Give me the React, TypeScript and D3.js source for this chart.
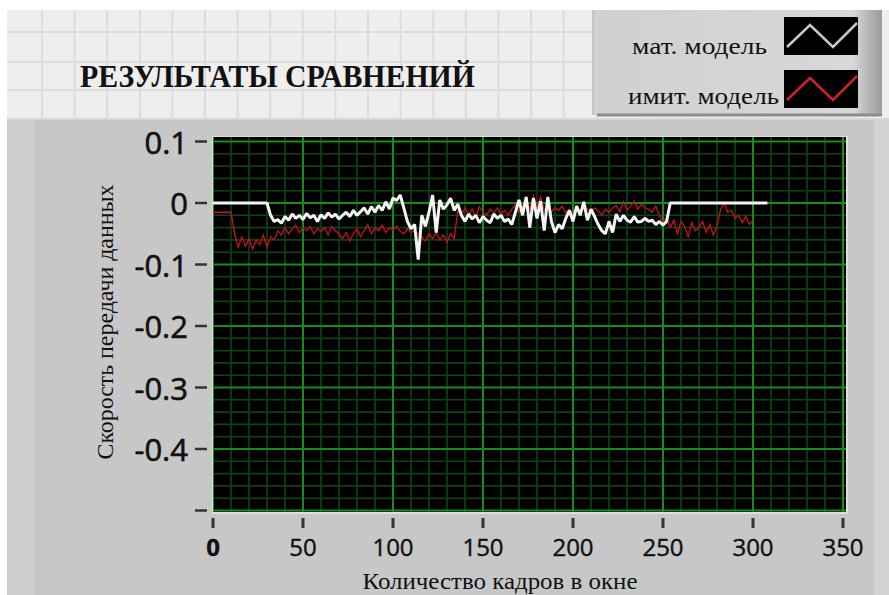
import React from "react";
import * as d3 from "d3";

// ---- data ----
const FRAME_STEP = 2; // samples every 2 frames
const MAT_MODEL: number[] = [
  0, 0, 0, 0, 0, 0, 0, 0, 0, 0, 0, 0, 0, 0, 0, 0,
  -0.02, -0.03, -0.027, -0.033, -0.022, -0.028, -0.018, -0.025, -0.02, -0.027,
  -0.017, -0.024, -0.02, -0.03, -0.019, -0.025, -0.016, -0.023, -0.018, -0.026,
  -0.02, -0.015, -0.022, -0.012, -0.02, -0.014, -0.008, -0.018, -0.006, -0.015,
  -0.004, -0.012, 0.002, -0.01, 0.008, 0.004, 0.013, -0.008, -0.03, -0.042,
  -0.035, -0.092, -0.02, -0.038, -0.015, 0.013, -0.048, 0.005, -0.01, -0.003,
  0.008, -0.012, -0.002, -0.02, -0.03, -0.018, -0.026, -0.02, -0.032, -0.022,
  -0.028, -0.032, -0.018, -0.025, -0.02, -0.03, -0.026, -0.035, -0.015, 0.005,
  -0.02, 0.01, -0.04, 0.008, -0.025, 0.003, -0.045, 0.01, -0.03, -0.048,
  -0.035, -0.042, -0.025, -0.012, -0.03, -0.005, -0.02, 0.002, -0.028, -0.01,
  -0.022, -0.035, -0.045, -0.05, -0.03, -0.048, -0.018, -0.03, -0.02, -0.028,
  -0.031, -0.022, -0.031, -0.03, -0.025, -0.03, -0.028, -0.035, -0.03, -0.036,
  -0.03, 0, 0, 0, 0, 0, 0, 0, 0, 0, 0, 0, 0, 0, 0, 0, 0, 0, 0, 0, 0, 0, 0, 0,
  0, 0, 0, 0, 0,
];
const SIM_MODEL: number[] = [
  -0.015, -0.015, -0.015, -0.015, -0.015, -0.015,
  -0.05, -0.072, -0.055, -0.07, -0.058, -0.075, -0.06, -0.068, -0.052, -0.072,
  -0.055, -0.06, -0.045, -0.052, -0.04, -0.05, -0.042, -0.036, -0.048, -0.04,
  -0.045, -0.038, -0.05, -0.042, -0.046, -0.04, -0.052, -0.038, -0.045, -0.05,
  -0.058, -0.048, -0.062, -0.05, -0.042, -0.055, -0.045, -0.035, -0.05, -0.04,
  -0.045, -0.036, -0.048, -0.04, -0.044, -0.038, -0.046, -0.05, -0.042, -0.048,
  -0.045, -0.05, -0.055, -0.062, -0.05, -0.058, -0.048, -0.06, -0.052, -0.064,
  -0.05, -0.058, -0.012, -0.02, -0.008, -0.018, -0.01, -0.022, -0.006, -0.015,
  -0.02, -0.01, -0.016, -0.008, -0.018, -0.012, -0.02, -0.01, -0.003, -0.015,
  -0.005, 0.005, -0.01, 0.012, -0.008, 0.01, -0.012, -0.005, -0.015, -0.008,
  -0.012, -0.005, -0.016, -0.01, -0.018, -0.006, -0.014, -0.002, -0.01, -0.016,
  -0.008, -0.012, -0.02, -0.01, -0.015, -0.008, -0.004, -0.014, 0.002, -0.012,
  -0.005, 0.003, -0.01, -0.002, -0.008, -0.01, -0.015, -0.005, -0.02, -0.03,
  -0.025, -0.04, -0.028, -0.05, -0.03, -0.038, -0.055, -0.032, -0.045, -0.04,
  -0.03, -0.048, -0.035, -0.052, -0.038, -0.01, 0, -0.015, -0.012, -0.025,
  -0.02, -0.032, -0.022, -0.035, -0.028,
];
const X_TICKS = [0, 50, 100, 150, 200, 250, 300, 350];
const Y_TICKS = [0.1, 0, -0.1, -0.2, -0.3, -0.4, -0.5];
const Y_TICK_LABELS = ["0.1", "0", "-0.1", "-0.2", "-0.3", "-0.4", ""];
const TITLE = "РЕЗУЛЬТАТЫ СРАВНЕНИЙ";
const LEGEND = ["мат. модель", "имит. модель"];
const X_LABEL = "Количество кадров в окне";
const Y_LABEL = "Скорость передачи данных";

const W = 889;
const H = 595;
const PLOT = { left: 213, right: 846, top: 137, bottom: 512 };

export default function App() {
  const x = d3.scaleLinear().domain([0, 350]).range([213, 843]);
  const y = d3.scaleLinear().domain([0, -0.5]).range([203, 510.5]);

  const white = MAT_MODEL.map((v, i) => [i * FRAME_STEP, v] as [number, number]);
  const red = SIM_MODEL.map((v, i) => [i * FRAME_STEP, v] as [number, number]);

  const line = d3
    .line<[number, number]>()
    .x((d) => x(d[0]))
    .y((d) => y(d[1]));

  const minorX = d3.range(0, 351, 10).filter((v) => v % 50 !== 0);
  const majorX = d3.range(0, 351, 50);
  const minorY = d3.range(-50, 11, 2).map((v) => v / 100).filter((v) => Math.round(v * 100) % 10 !== 0);
  const majorY = d3.range(-5, 2, 1).map((v) => v / 10);

  const bgV = d3.range(42, 600, 32.6);
  const bgH = [32, 62, 90];

  const serif = "'Liberation Serif', 'Times New Roman', serif";
  const sans = "'Open Sans', 'DejaVu Sans', sans-serif";

  const swatch = (y0: number, color: string) => {
    const pts: [number, number][] = [
      [787, y0 + 30],
      [810, y0 + 8],
      [833, y0 + 30],
      [857, y0 + 6],
    ];
    const p = d3.line<[number, number]>()(pts) || "";
    return (
      <g>
        <rect x={784} y={y0} width={74} height={38} fill="#000" />
        <path d={p} fill="none" stroke={color} strokeWidth={2.5} />
      </g>
    );
  };

  return (
    <svg
      width={W}
      height={H}
      style={{ position: "absolute", left: 0, top: 0, background: "#fff" }}
    >
      <defs>
        <linearGradient id="legbg" x1="0" x2="1" y1="0" y2="0">
          <stop offset="0" stopColor="#d0d0d0" />
          <stop offset="0.9" stopColor="#d8d8d8" />
          <stop offset="0.95" stopColor="#b8b8b8" />
          <stop offset="1" stopColor="#9c9c9c" />
        </linearGradient>
        <clipPath id="plotclip">
          <rect x={PLOT.left} y={PLOT.top} width={PLOT.right - PLOT.left} height={PLOT.bottom - PLOT.top} />
        </clipPath>
      </defs>
      <rect x={0} y={0} width={W} height={H} fill="#fff" />

      {/* top panel with decorative grid */}
      <rect x={7} y={10} width={W - 7} height={108} fill="#eeeeee" />
      {bgV.map((vx, i) => (
        <line key={"bv" + i} x1={vx} x2={vx} y1={10} y2={118} stroke="#dddddd" strokeWidth={2} />
      ))}
      {bgH.map((hy, i) => (
        <line key={"bh" + i} x1={7} x2={593} y1={hy} y2={hy} stroke="#dddddd" strokeWidth={2} />
      ))}

      {/* legend box */}
      <rect x={593} y={10} width={289} height={105} fill="url(#legbg)" />
      <line x1={593} x2={593} y1={10} y2={115} stroke="#c4c4c4" strokeWidth={2} />
      <line x1={597} x2={882} y1={115} y2={115} stroke="#8c8c8c" strokeWidth={3} />
      <text x={767} y={54} textAnchor="end" fontFamily={serif} fontSize={24} fill="#111" textLength={135} lengthAdjust="spacingAndGlyphs">
        {LEGEND[0]}
      </text>
      <text x={779} y={104} textAnchor="end" fontFamily={serif} fontSize={24} fill="#111" textLength={151} lengthAdjust="spacingAndGlyphs">
        {LEGEND[1]}
      </text>
      {swatch(17, "#c8c8c8")}
      {swatch(70, "#d0202c")}

      {/* title */}
      <text x={80} y={87} fontFamily={serif} fontWeight="bold" fontSize={31} fill="#111" textLength={395} lengthAdjust="spacingAndGlyphs">
        {TITLE}
      </text>

      {/* lower panel */}
      <rect x={7} y={118} width={W - 7} height={H - 118} fill="#c7c7c7" />
      <rect x={7} y={118} width={28} height={H - 118} fill="#cdcdcd" />
      <rect x={874} y={118} width={15} height={H - 118} fill="#d3d3d3" />
      <line x1={7} x2={W} y1={119} y2={119} stroke="#d6d6d6" strokeWidth={2} />

      {/* plot area */}
      <rect x={PLOT.left - 1} y={PLOT.top - 1} width={PLOT.right - PLOT.left + 3} height={PLOT.bottom - PLOT.top + 3} fill="#dedede" />
      <rect x={PLOT.left} y={PLOT.top} width={PLOT.right - PLOT.left} height={PLOT.bottom - PLOT.top} fill="#000" />
      <g clipPath="url(#plotclip)">
        {minorX.map((v) => (
          <line key={"mx" + v} x1={x(v)} x2={x(v)} y1={PLOT.top} y2={PLOT.bottom} stroke="#0c4410" strokeWidth={1.6} />
        ))}
        {minorY.map((v) => (
          <line key={"my" + v} x1={PLOT.left} x2={PLOT.right} y1={y(v)} y2={y(v)} stroke="#0c4410" strokeWidth={1.6} />
        ))}
        {majorX.map((v) => (
          <line key={"Mx" + v} x1={x(v)} x2={x(v)} y1={PLOT.top} y2={PLOT.bottom} stroke="#198a20" strokeWidth={2} />
        ))}
        {majorY.map((v) => (
          <line key={"My" + v} x1={PLOT.left} x2={PLOT.right} y1={y(v)} y2={y(v)} stroke="#198a20" strokeWidth={2} />
        ))}
        <path d={line(red) || ""} fill="none" stroke="#c8101c" strokeWidth={1.3} />
        <path d={line(white) || ""} fill="none" stroke="#f4f4f4" strokeWidth={3} strokeLinejoin="bevel" />
      </g>

      {/* y axis ticks */}
      {Y_TICKS.map((v, i) => (
        <g key={"yt" + i}>
          <line x1={195} x2={207} y1={y(v)} y2={y(v)} stroke="#333" strokeWidth={2.5} />
          <text x={188} y={y(v)} textAnchor="end" dominantBaseline="central" fontFamily={sans} fontSize={31} fill="#111" stroke="#111" strokeWidth={0.6}>
            {Y_TICK_LABELS[i]}
          </text>
        </g>
      ))}

      {/* x axis ticks */}
      {X_TICKS.map((v) => (
        <g key={"xt" + v}>
          <line x1={x(v)} x2={x(v)} y1={518} y2={528} stroke="#333" strokeWidth={3} />
          <text
            x={x(v)}
            y={556}
            textAnchor="middle"
            fontFamily={sans}
            fontSize={24}
            fontWeight={v === 0 ? "bold" : "normal"}
            fill="#111"
            stroke="#111"
            strokeWidth={0.4}
          >
            {v}
          </text>
        </g>
      ))}

      {/* axis titles */}
      <text x={500} y={589} textAnchor="middle" fontFamily={serif} fontSize={24} fill="#111" textLength={275} lengthAdjust="spacingAndGlyphs">
        {X_LABEL}
      </text>
      <text
        transform={`translate(113, 322) rotate(-90)`}
        textAnchor="middle"
        fontFamily={serif}
        fontSize={23}
        fill="#111"
        textLength={275}
        lengthAdjust="spacingAndGlyphs"
      >
        {Y_LABEL}
      </text>
    </svg>
  );
}
